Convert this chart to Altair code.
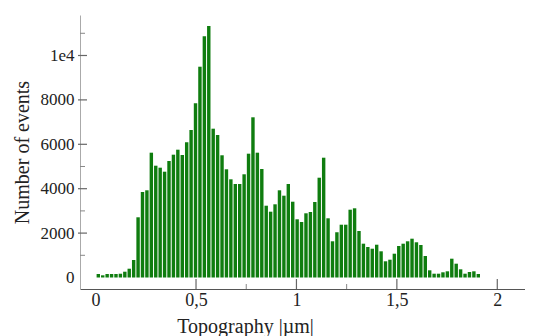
import altair as alt
import pandas as pd

# Histogram counts, one per bin of width 0.022 µm starting at 0
counts = [158, 99, 158, 158, 158, 170, 261, 396, 788, 2712,
          3851, 3928, 5622, 5036, 4946, 4766, 5248, 5532, 5757, 5518,
          6090, 6644, 7847, 9495, 10865, 11329, 6703, 6419, 5505, 4874,
          4423, 4212, 4212, 4649, 5577, 7216, 5622, 4887, 3234, 2964,
          3297, 3928, 3685, 4212, 3414, 2622, 2500, 2892, 2950, 3401,
          4495, 5396, 2667, 1631, 2036, 2378, 2378, 3054, 3117, 2095,
          1523, 1374, 1297, 1477, 1180, 730, 802, 1072, 1419, 1523,
          1631, 1748, 1586, 1464, 968, 324, 171, 171, 234, 279,
          847, 622, 369, 171, 248, 279, 158]
bin_width = 0.022

x_tick_values = [0, 0.5, 1, 1.5, 2]
x_major_ticks = [0.5, 1, 1.5, 2]
x_minor_ticks = [0.75, 1.25]
y_tick_values = [0, 2000, 4000, 6000, 8000, 10000]
y_major_ticks = [2000, 4000, 6000, 8000, 10000]
y_minor_ticks = [1000, 3000, 5000, 11000]

starts = [i * bin_width for i in range(len(counts))]
df = pd.DataFrame({"start": starts,
                   "end": [s + bin_width for s in starts],
                   "count": counts})

FONT = "Liberation Serif"
xscale = alt.Scale(domain=[-0.0777, 2.138], nice=False, zero=False)
yscale = alt.Scale(domain=[-518, 11824], nice=False, zero=False)

xaxis = alt.Axis(values=x_tick_values, ticks=False, grid=False,
                 domainColor="#555", domainWidth=1.2,
                 labelFont=FONT, labelFontSize=18, labelColor="#222",
                 labelPadding=2, labelFlush=False, labelOverlap=False,
                 labelExpr="replace(format(datum.value, '~g'), '.', ',')",
                 title="Topography |µm|", titleFont=FONT,
                 titleFontSize=20, titleFontWeight="normal",
                 titleColor="#222", titlePadding=7, titleX=165)
yaxis = alt.Axis(values=y_tick_values, ticks=False, grid=False,
                 domainColor="#aaa",
                 labelFont=FONT, labelFontSize=17, labelColor="#222",
                 labelPadding=6, labelOverlap=False,
                 labelExpr="datum.value == 10000 ? '1e4' : format(datum.value, 'd')",
                 title="Number of events", titleFont=FONT,
                 titleFontSize=20, titleFontWeight="normal",
                 titleColor="#222", titlePadding=8)

bars = alt.Chart(df).mark_bar(color="#0f7d0f", binSpacing=1).encode(
    x=alt.X("start:Q", bin="binned", scale=xscale, axis=xaxis, title="Topography |µm|"),
    x2="end:Q",
    y=alt.Y("count:Q", scale=yscale, axis=yaxis, title="Number of events"),
)

ymaj = alt.Chart(pd.DataFrame({"count": y_major_ticks})).mark_rule(
    color="#666", strokeWidth=1.2).encode(
    y=alt.Y("count:Q", scale=yscale, title="Number of events"),
    x=alt.value(-2), x2=alt.value(7))
ymin = alt.Chart(pd.DataFrame({"count": y_minor_ticks})).mark_rule(
    color="#888", strokeWidth=1).encode(
    y=alt.Y("count:Q", scale=yscale, title="Number of events"),
    x=alt.value(0), x2=alt.value(5))
xmaj = alt.Chart(pd.DataFrame({"start": x_major_ticks})).mark_rule(
    color="#666", strokeWidth=1.2).encode(
    x=alt.X("start:Q", scale=xscale, title="Topography |µm|"),
    y=alt.value(264), y2=alt.value(274))
xmin = alt.Chart(pd.DataFrame({"start": x_minor_ticks})).mark_rule(
    color="#888", strokeWidth=1).encode(
    x=alt.X("start:Q", scale=xscale, title="Topography |µm|"),
    y=alt.value(269), y2=alt.value(274))

chart = alt.layer(bars, ymaj, ymin, xmaj, xmin).properties(
    width=445, height=274,
    autosize=alt.AutoSizeParams(type="none"),
    padding={"left": 72, "top": 7, "right": 0, "bottom": 47},
    background="white",
).configure_view(strokeWidth=0)

chart.save("out.html", embed_options={"renderer": "svg", "actions": False})
